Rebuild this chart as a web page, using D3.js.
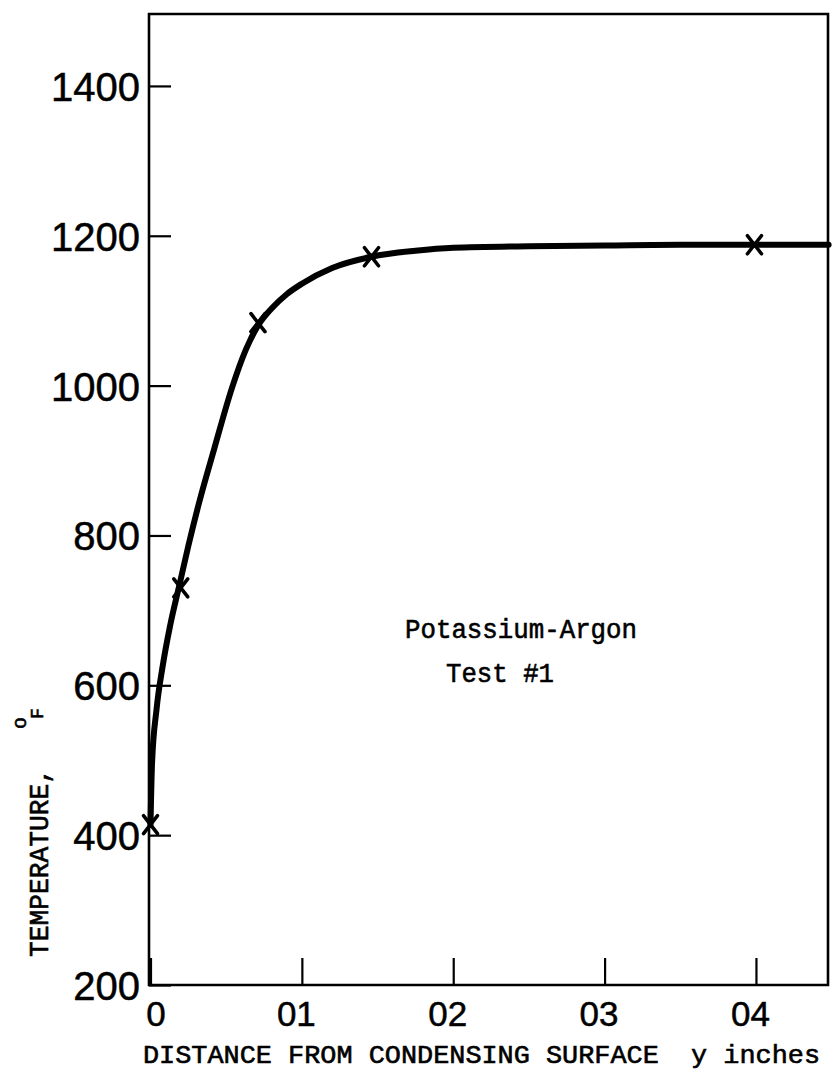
<!DOCTYPE html>
<html>
<head>
<meta charset="utf-8">
<title>Potassium-Argon Test #1</title>
<script src="https://cdn.jsdelivr.net/npm/d3@7"></script>
<style>
  html, body { margin: 0; padding: 0; background: #fff; }
  svg { display: block; }
  .tick-num { font-family: 'Liberation Sans', Arial, sans-serif; fill: #000; stroke: #000; stroke-width: 0.5px; }
  .type { font-family: 'Liberation Mono', 'DejaVu Sans Mono', monospace; fill: #000; stroke: #000; stroke-width: 0.6px; }
</style>
</head>
<body>
<svg id="chart" width="834" height="1076"></svg>
<script>
(function () {
  'use strict';

  /* ──────────────────────────────────────────────────────────────
   * DATA
   * ────────────────────────────────────────────────────────────── */
  // measured points (x marks)
  var pointDist = [0, 0.0020, 0.0071, 0.0146, 0.0399];
  var pointTemp = [414, 730, 1084, 1172, 1188];

  // hand-drawn fitted curve
  var curveDist = [0, 0.0001, 0.0004, 0.0008, 0.0013, 0.0019, 0.0025, 0.0032, 0.0042,
                   0.0054, 0.0063, 0.0071, 0.0080, 0.0090, 0.0100, 0.0120, 0.0146,
                   0.0175, 0.020, 0.025, 0.030, 0.035, 0.040, 0.0448];
  var curveTemp = [414, 495, 568, 625, 680, 733, 786, 843, 915,
                   998, 1048, 1080, 1103, 1122, 1136, 1157, 1172,
                   1180, 1184, 1186, 1187, 1188, 1188, 1188];

  var yTickValues = [200, 400, 600, 800, 1000, 1200, 1400];
  var yTickLabels = ['200', '400', '600', '800', '1000', '1200', '1400'];
  var xTickValues = [0, 0.01, 0.02, 0.03, 0.04];
  var xTickLabels = ['0', '01', '02', '03', '04'];

  /* ──────────────────────────────────────────────────────────────
   * SCALES
   * ────────────────────────────────────────────────────────────── */
  var left = 149, right = 828, top = 14, bottom = 985;

  var x = d3.scaleLinear().domain([0, 0.04476]).range([left + 1.5, right]);
  var y = d3.scaleLinear().domain([200, 1496]).range([bottom, top]);

  var svg = d3.select('#chart');
  svg.append('rect').attr('width', 834).attr('height', 1076).attr('fill', '#fff');

  /* ──────────────────────────────────────────────────────────────
   * AXES (ticks point inward, like the original)
   * ────────────────────────────────────────────────────────────── */
  var yAxis = d3.axisLeft(y)
    .tickValues(yTickValues)
    .tickSize(-22)
    .tickPadding(9)
    .tickFormat(function (d, i) { return yTickLabels[i]; });

  var gy = svg.append('g')
    .attr('transform', 'translate(' + left + ',0)')
    .call(yAxis);
  gy.select('.domain').remove();
  gy.selectAll('line').attr('stroke', '#000').attr('stroke-width', 2.2);
  gy.selectAll('text')
    .attr('class', 'tick-num')
    .attr('font-size', 40)
    .attr('dy', '0.36em');

  var xAxis = d3.axisBottom(x)
    .tickValues(xTickValues)
    .tickSize(-27)
    .tickFormat(function (d, i) { return xTickLabels[i]; });

  var gx = svg.append('g')
    .attr('transform', 'translate(0,' + bottom + ')')
    .call(xAxis);
  gx.select('.domain').remove();
  gx.selectAll('line').attr('stroke', '#000').attr('stroke-width', 2.2);
  gx.selectAll('text')
    .attr('class', 'tick-num')
    .attr('font-size', 35)
    .attr('y', 41)
    .attr('dy', 0)
    .attr('dx', function (d) { return d === 0 ? 5 : -6; });

  // frame
  svg.append('path')
    .attr('d', 'M' + left + ',' + bottom + 'V' + top + 'H' + right + 'V' + bottom + 'Z')
    .attr('fill', 'none')
    .attr('stroke', '#000')
    .attr('stroke-width', 2.6);

  /* ──────────────────────────────────────────────────────────────
   * CURVE + POINTS
   * ────────────────────────────────────────────────────────────── */
  var line = d3.line()
    .x(function (d) { return x(d[0]); })
    .y(function (d) { return y(d[1]); })
    .curve(d3.curveMonotoneX);

  svg.append('path')
    .datum(d3.zip(curveDist, curveTemp))
    .attr('d', line)
    .attr('fill', 'none')
    .attr('stroke', '#000')
    .attr('stroke-width', 6)
    .attr('stroke-linecap', 'round');

  svg.selectAll('.pt')
    .data(d3.zip(pointDist, pointTemp))
    .enter().append('path')
    .attr('class', 'pt')
    .attr('transform', function (d) { return 'translate(' + x(d[0]) + ',' + y(d[1]) + ')'; })
    .attr('d', 'M-7,-9L7,9M-7,9L7,-9')
    .attr('stroke', '#000')
    .attr('stroke-width', 3.6)
    .attr('stroke-linecap', 'round');

  /* ──────────────────────────────────────────────────────────────
   * TEXTS (typewritten in the original, fixed pitch)
   * ────────────────────────────────────────────────────────────── */
  function typed(parent, str, px, py, size, len, anchor) {
    var t = parent.append('text')
      .attr('class', 'type')
      .attr('x', px).attr('y', py)
      .attr('text-anchor', anchor || 'start')
      .attr('font-size', size)
      .text(str);
    if (len) t.attr('textLength', len).attr('lengthAdjust', 'spacingAndGlyphs');
    return t;
  }

  typed(svg, 'Potassium-Argon', 521, 638, 28, 232, 'middle');
  typed(svg, 'Test #1', 500, 682, 28, 108, 'middle');
  typed(svg, 'DISTANCE FROM CONDENSING SURFACE\u00a0\u00a0y inches', 143, 1063, 26, 677);

  var yTitle = svg.append('g')
    .attr('transform', 'translate(48,957) rotate(-90)');
  typed(yTitle, 'TEMPERATURE,', 0, 0, 28, 189);
  typed(yTitle, 'o', 228, -22, 20);
  typed(yTitle, 'F', 238, -5, 18);

})();
</script>
</body>
</html>
